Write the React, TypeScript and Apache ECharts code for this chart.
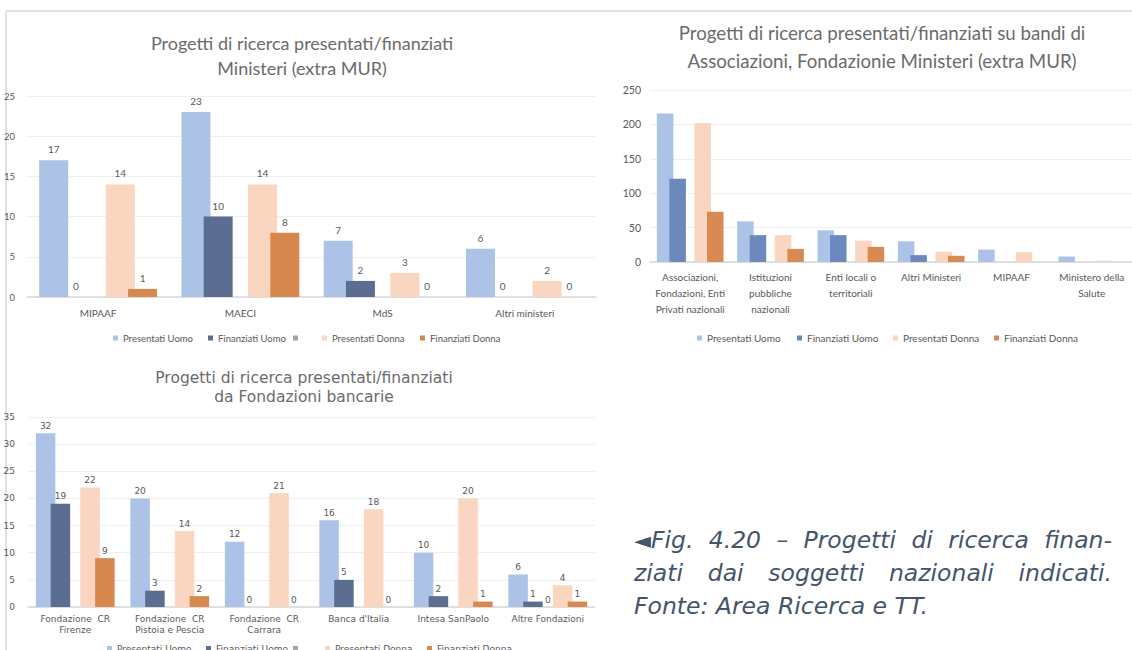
import React, { useEffect, useRef } from "react";
import * as echarts from "echarts";

const seriesNames = ["Presentati Uomo", "Finanziati Uomo", " ", "Presentati Donna", "Finanziati Donna"];

// Chart 1 – Ministeri (extra MUR)
const ministeriCategories = ["MIPAAF", "MAECI", "MdS", "Altri ministeri"];
const ministeriPresentatiUomo = [17, 23, 7, 6];
const ministeriFinanziatiUomo = [0, 10, 2, 0];
const ministeriVuota = [null, null, null, null];
const ministeriPresentatiDonna = [14, 14, 3, 2];
const ministeriFinanziatiDonna = [1, 8, 0, 0];
const ministeriTicks = { max: 25, interval: 5 };

// Chart 2 – bandi di Associazioni, Fondazioni e Ministeri
const bandiCategories = [
  "Associazioni,\nFondazioni, Enti\nPrivati nazionali",
  "Istituzioni\npubbliche\nnazionali",
  "Enti locali o\nterritoriali",
  "Altri Ministeri",
  "MIPAAF",
  "Ministero della\nSalute",
];
const bandiPresentatiUomo = [216, 59, 46, 30, 18, 8];
const bandiFinanziatiUomo = [121, 39, 39, 10, 0, 0];
const bandiVuota = [null, null, null, null, null, null];
const bandiPresentatiDonna = [202, 39, 31, 15, 14, 2];
const bandiFinanziatiDonna = [73, 19, 22, 9, 0, 0];
const bandiTicks = { max: 250, interval: 50 };

// Chart 3 – Fondazioni bancarie
const fondCategories = [
  "Fondazione  CR\nFirenze",
  "Fondazione  CR\nPistoia e Pescia",
  "Fondazione  CR\nCarrara",
  "Banca d'Italia",
  "Intesa SanPaolo",
  "Altre Fondazioni",
];
const fondPresentatiUomo = [32, 20, 12, 16, 10, 6];
const fondFinanziatiUomo = [19, 3, 0, 5, 2, 1];
const fondVuota = [null, null, null, null, null, 0];
const fondPresentatiDonna = [22, 14, 21, 18, 20, 4];
const fondFinanziatiDonna = [9, 2, 0, 0, 1, 1];
const fondTicks = { max: 35, interval: 5 };

const FONT = "Lato, 'Noto Sans', sans-serif";
const FONT3 = "'DejaVu Sans', Verdana, sans-serif";
const GREY = "#595959";
const colorsDark = ["#adc2e7", "#5b6e92", "#a5a5a5", "#fad5c0", "#d7884f"];
const colorsBlue = ["#adc2e7", "#6c89bd", "#a5a5a5", "#fad5c0", "#d98a53"];

function buildSeries(
  idx: number,
  data: (number | null)[][],
  colors: string[],
  barWidth: number,
  barGap: string,
  label: any
) {
  return data.map((d, i) => ({
    type: "bar",
    name: seriesNames[i],
    xAxisIndex: idx,
    yAxisIndex: idx,
    data: d,
    barWidth,
    barGap,
    itemStyle: { color: colors[i] },
    label,
  }));
}

function legendItem(
  name: string,
  color: string,
  left: number,
  top: number,
  fontSize: number,
  font: string,
  icon: number
) {
  return {
    left,
    top,
    padding: 0,
    icon: "rect",
    itemWidth: icon,
    itemHeight: icon,
    selectedMode: false,
    textStyle: { fontSize, color: GREY, fontFamily: font },
    data: [{ name, itemStyle: { color } }],
  };
}

export default function App() {
  const ref = useRef<HTMLDivElement>(null);

  useEffect(() => {
    if (!ref.current) return;
    const chart = echarts.init(ref.current, undefined, { renderer: "svg" });

    const xAxisBase = (
      idx: number,
      data: string[],
      fontSize: number,
      margin: number,
      lineHeight: number,
      font: string
    ) => ({
      gridIndex: idx,
      type: "category",
      data,
      axisLine: { lineStyle: { color: "#d9d9d9", width: 1.5 } },
      axisTick: { show: false },
      axisLabel: { color: GREY, fontSize, margin, lineHeight, interval: 0, fontFamily: font },
    });
    const yAxisBase = (
      idx: number,
      t: { max: number; interval: number },
      fontSize: number,
      margin: number,
      font: string
    ) => ({
      gridIndex: idx,
      type: "value",
      min: 0,
      max: t.max,
      interval: t.interval,
      axisLine: { show: false },
      axisTick: { show: false },
      splitLine: { lineStyle: { color: "#efefef", width: 1 } },
      axisLabel: { color: GREY, fontSize, margin, fontFamily: font },
    });

    const legendTexts4 = ["Presentati Uomo", "Finanziati Uomo", "Presentati Donna", "Finanziati Donna"];
    const leg1Left = [113, 208, 293, 322, 420];
    const leg2Left = [697, 797, 893, 994];
    const leg3Left = [107, 206, 293, 325, 427];

    const option: any = {
      animation: false,
      textStyle: { fontFamily: FONT },
      grid: [
        { left: 27, top: 96, width: 569, height: 201 },
        { left: 650, top: 90, width: 486, height: 172 },
        { left: 28, top: 417, width: 567, height: 190 },
      ],
      xAxis: [
        xAxisBase(0, ministeriCategories, 10, 10, 12, FONT),
        xAxisBase(1, bandiCategories, 10, 7, 16, FONT),
        xAxisBase(2, fondCategories, 9, 7, 10.5, FONT3),
      ],
      yAxis: [
        yAxisBase(0, ministeriTicks, 9.5, 12, FONT),
        yAxisBase(1, bandiTicks, 10.5, 9, FONT),
        yAxisBase(2, fondTicks, 9, 13, FONT3),
      ],
      legend: [
        ...seriesNames.map((n, i) => legendItem(n, colorsDark[i], leg1Left[i], 333, 9.5, FONT, 5)),
        ...legendTexts4.map((n, i) =>
          legendItem(n, colorsBlue[seriesNames.indexOf(n)], leg2Left[i], 333, 10, FONT, 5)
        ),
        ...seriesNames.map((n, i) => legendItem(n, colorsDark[i], leg3Left[i], 644, 9, FONT3, 5)),
      ],
      series: [
        ...buildSeries(
          0,
          [ministeriPresentatiUomo, ministeriFinanziatiUomo, ministeriVuota, ministeriPresentatiDonna, ministeriFinanziatiDonna],
          colorsDark,
          29,
          "-23.4%",
          { show: true, position: "top", distance: 6, color: GREY, fontSize: 10, fontFamily: FONT }
        ),
        ...buildSeries(
          1,
          [bandiPresentatiUomo, bandiFinanziatiUomo, bandiVuota, bandiPresentatiDonna, bandiFinanziatiDonna],
          colorsBlue,
          16.5,
          "-24%",
          { show: false }
        ),
        ...buildSeries(
          2,
          [fondPresentatiUomo, fondFinanziatiUomo, fondVuota, fondPresentatiDonna, fondFinanziatiDonna],
          colorsDark,
          19.5,
          "-24%",
          { show: true, position: "top", distance: 3, color: GREY, fontSize: 9, fontFamily: FONT3 }
        ),
      ],
      graphic: [
        {
          type: "line",
          shape: { x1: 6, y1: 11, x2: 1132, y2: 11 },
          style: { stroke: "#d9d9d9", lineWidth: 1.5 },
        },
        {
          type: "line",
          shape: { x1: 6, y1: 11, x2: 6, y2: 660 },
          style: { stroke: "#d9d9d9", lineWidth: 1.5 },
        },
        {
          type: "text",
          x: 302,
          y: 55,
          style: {
            text: "Progetti di ricerca presentati/finanziati\nMinisteri (extra MUR)",
            align: "center",
            verticalAlign: "middle",
            lineHeight: 25,
            fontSize: 18,
            fill: "#6b6b6b",
            fontFamily: FONT,
          },
        },
        {
          type: "text",
          x: 882,
          y: 47,
          style: {
            text: "Progetti di ricerca presentati/finanziati su bandi di\nAssociazioni, Fondazionie Ministeri (extra MUR)",
            align: "center",
            verticalAlign: "middle",
            lineHeight: 28,
            fontSize: 18.7,
            fill: "#6b6b6b",
            fontFamily: FONT,
          },
        },
        {
          type: "text",
          x: 304,
          y: 387,
          style: {
            text: "Progetti di ricerca presentati/finanziati\nda Fondazioni bancarie",
            align: "center",
            verticalAlign: "middle",
            lineHeight: 19,
            fontSize: 15.5,
            fill: "#6b6b6b",
            fontFamily: FONT3,
          },
        },
      ],
    };

    chart.setOption(option);
    return () => chart.dispose();
  }, []);

  const justified: React.CSSProperties = { textAlign: "justify", textAlignLast: "justify", whiteSpace: "nowrap" };

  return (
    <div
      style={{
        position: "fixed",
        left: 0,
        top: 0,
        width: 1132,
        height: 650,
        overflow: "hidden",
        background: "#ffffff",
      }}
    >
      <div ref={ref} style={{ position: "absolute", left: 0, top: 0, width: 1132, height: 660 }} />
      <div
        style={{
          position: "absolute",
          left: 634,
          top: 523.5,
          width: 478,
          fontFamily: "'DejaVu Sans', Verdana, sans-serif",
          fontStyle: "italic",
          fontSize: 23.5,
          lineHeight: "33px",
          color: "#44546a",
        }}
      >
        <div style={justified}>
          <span style={{ fontSize: 22, fontStyle: "normal" }}>◄</span>Fig. 4.20 – Progetti di ricerca finan-
        </div>
        <div style={justified}>ziati dai soggetti nazionali indicati.</div>
        <div style={{ whiteSpace: "nowrap" }}>Fonte: Area Ricerca e TT.</div>
      </div>
    </div>
  );
}
